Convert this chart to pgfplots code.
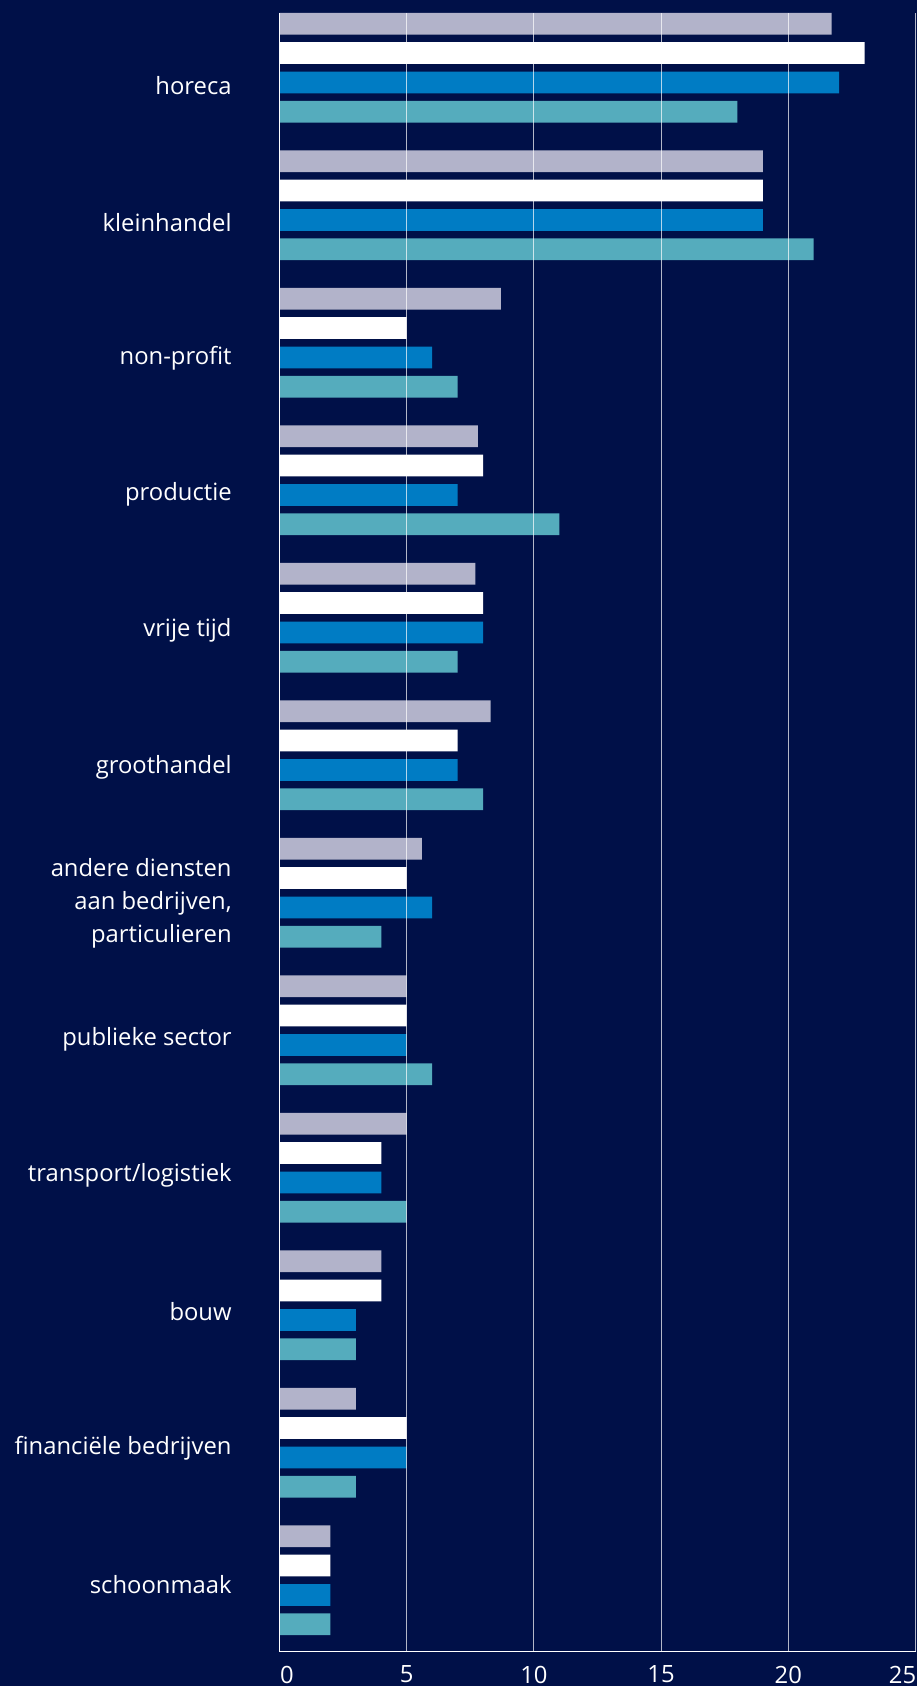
\documentclass[border=0pt]{standalone}
\usepackage{pgfplots}
\pgfplotsset{compat=1.18}
\usepackage{pgfplotstable}
\usepackage{fontspec}
\setmainfont{Open Sans}
\definecolor{bg}{HTML}{001048}
\definecolor{cgray}{HTML}{B2B3CA}
\definecolor{cblue}{HTML}{007CC4}
\definecolor{cteal}{HTML}{55ACBD}
\pgfplotstableread{
pos g w b t
0 21.7 23 22 18
1 19 19 19 21
2 8.7 5 6 7
3 7.8 8 7 11
4 7.7 8 8 7
5 8.3 7 7 8
6 5.6 5 6 4
7 5 5 5 6
8 5 4 4 5
9 4 4 3 3
10 3 5 5 3
11 2 2 2 2
}\datatable
\begin{document}
\begin{tikzpicture}[x=1pt,y=1pt]
\fill[bg] (0,0) rectangle (458.5,843);
\useasboundingbox (0,0) rectangle (458.5,843);
\begin{axis}[
  at={(139.75pt,17pt)}, anchor=south west,
  scale only axis, width=318pt, height=819.5pt,
  xmin=0, xmax=25, ymin=-1652, ymax=-13,
  axis lines=left, axis line style={-},
  x axis line style={white, line width=0.5pt},
  y axis line style={white, line width=0.8pt},
  axis on top,
  xmajorgrids, grid style={white, opacity=0.7, line width=0.5pt},
  major tick length=0pt,
  xtick={0,5,10,15,20,25},
  xticklabels={\hspace*{7.5pt}0,5,10,15,20,25\hspace*{13pt}},
  xticklabel style={anchor=north, inner sep=0pt, yshift=-6.75pt, text=white, font=\fontsize{11.9}{14}\selectfont},
  ytick={-83.9,-220.1,-356.3,-492.5,-628.7,-764.9,-901.1,-1037.3,-1173.5,-1309.7,-1445.9,-1582.1},
  yticklabels={horeca,kleinhandel,non-profit,productie,vrije tijd,groothandel,{andere diensten\\aan bedrijven,\\particulieren},publieke sector,transport/logistiek,bouw,financiële bedrijven,schoonmaak},
  yticklabel style={align=right, anchor=east, inner sep=0pt, xshift=-23.75pt, yshift=-1pt, text=white, font=\fontsize{11.9}{16.5}\selectfont},
]
\addplot[xbar, bar shift=0pt, bar width=21.7, fill=cgray, draw=none] table[x=g, y expr={-(67.8+137.5*\thisrow{pos}-44)}] {\datatable};
\addplot[xbar, bar shift=0pt, bar width=21.7, fill=white, draw=none] table[x=w, y expr={-(67.8+137.5*\thisrow{pos}-14.7)}] {\datatable};
\addplot[xbar, bar shift=0pt, bar width=21.7, fill=cblue, draw=none] table[x=b, y expr={-(67.8+137.5*\thisrow{pos}+14.7)}] {\datatable};
\addplot[xbar, bar shift=0pt, bar width=21.7, fill=cteal, draw=none] table[x=t, y expr={-(67.8+137.5*\thisrow{pos}+44)}] {\datatable};
\end{axis}
\end{tikzpicture}
\end{document}
